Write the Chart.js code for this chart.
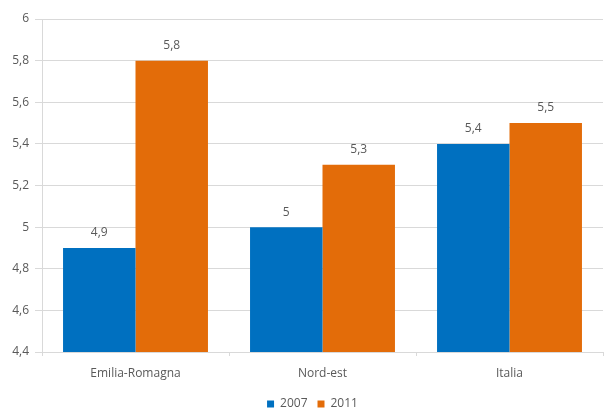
<!DOCTYPE html>
<html>
<head>
<meta charset="utf-8">
<script src="https://cdn.jsdelivr.net/npm/chart.js@4/dist/chart.umd.min.js"></script>
<style>
  html, body { margin: 0; padding: 0; background: #fff; }
  #wrap { width: 604px; height: 408px; }
</style>
</head>
<body>
<div id="wrap"><canvas id="chart" width="604" height="408"></canvas></div>
<script>
// dati
const categories = ['Emilia-Romagna', 'Nord-est', 'Italia'];
const series2007 = [4.9, 5.0, 5.4];
const series2011 = [5.8, 5.3, 5.5];
const seriesNames = ['2007', '2011'];
const yMin = 4.4;
const yMax = 6;
const yStep = 0.2;

const fmt = v => String(Math.round(v * 10) / 10).replace('.', ',');

// etichette sopra le barre
const valueLabels = {
  id: 'valueLabels',
  afterDatasetsDraw(chart) {
    const ctx = chart.ctx;
    ctx.save();
    ctx.font = '12px "Open Sans"';
    ctx.fillStyle = '#595959';
    ctx.textAlign = 'center';
    ctx.textBaseline = 'middle';
    chart.data.datasets.forEach((ds, i) => {
      chart.getDatasetMeta(i).data.forEach((bar, j) => {
        ctx.fillText(fmt(ds.data[j]), bar.x, bar.y - 15);
      });
    });
    ctx.restore();
  }
};

// legenda: altezza fissa e posizione
const LEGEND_H = 20;
const legendShift = {
  id: 'legendShift',
  beforeLayout(chart) {
    const lg = chart.legend;
    if (lg && !lg._patched) {
      const fit = lg.fit.bind(lg);
      lg.fit = function () { fit(); this.height = LEGEND_H; };
      lg._patched = true;
    }
  },
  afterLayout(chart) {
    const lg = chart.legend;
    const dy = 388 - lg.top;
    lg.left += 11;
    lg.right += 11;
    lg.top += dy;
    lg.bottom += dy;
  }
};

new Chart(document.getElementById('chart').getContext('2d'), {
  type: 'bar',
  data: {
    labels: categories,
    datasets: [
      { label: seriesNames[0], data: series2007, backgroundColor: '#0070c0' },
      { label: seriesNames[1], data: series2011, backgroundColor: '#e36c09' }
    ]
  },
  options: {
    responsive: false,
    animation: false,
    layout: { padding: { top: 19, right: 1, left: 0, bottom: 0 } },
    datasets: {
      bar: { categoryPercentage: 0.775, barPercentage: 1 }
    },
    plugins: {
      legend: {
        position: 'bottom',
        labels: {
          font: { family: 'Open Sans', size: 12 },
          color: '#595959',
          boxWidth: 7,
          boxHeight: 7,
          padding: 10
        }
      },
      tooltip: { enabled: false }
    },
    scales: {
      x: {
        grid: { drawOnChartArea: false, color: '#d9d9d9', tickLength: 4, offset: true },
        border: { color: '#d9d9d9' },
        ticks: { font: { family: 'Open Sans', size: 12 }, color: '#595959', padding: 10 },
        afterFit(scale) { scale.height = 408 - 352 - LEGEND_H; }
      },
      y: {
        min: yMin,
        max: yMax,
        ticks: {
          stepSize: yStep,
          font: { family: 'Open Sans', size: 12 },
          color: '#595959',
          padding: 6,
          callback: v => fmt(v)
        },
        grid: { color: '#d9d9d9', tickLength: 7 },
        border: { color: '#d9d9d9' },
        afterFit(scale) { scale.width = 42; }
      }
    }
  },
  plugins: [valueLabels, legendShift]
});
</script>
</body>
</html>
